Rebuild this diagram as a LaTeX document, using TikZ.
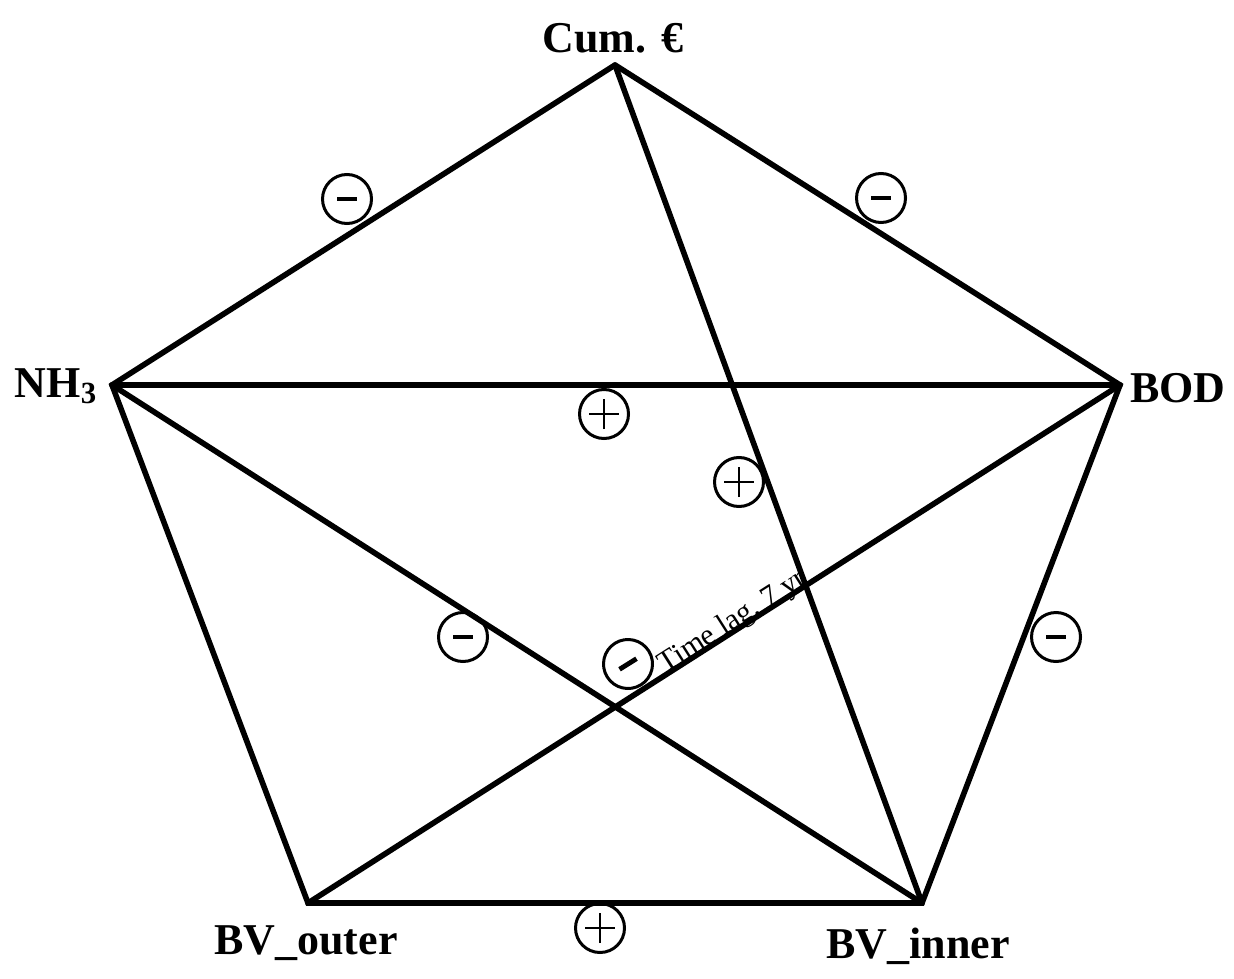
\documentclass[tikz,border=0pt]{standalone}
\usepackage{fontspec}
\setmainfont{Liberation Serif}
\usetikzlibrary{positioning}
\tikzset{
  edge/.style={line width=2.8pt, line cap=round},
  vlabel/.style={font=\fontsize{22}{26}\selectfont\bfseries},
  signbox/.style={circle, draw, line width=1.5pt, minimum size=24.5pt, inner sep=0pt},
  negsign/.style={signbox, path picture={
      \draw[line width=2.4pt] ([xshift=-5pt]path picture bounding box.center)
        -- ([xshift=5pt]path picture bounding box.center);}},
  possign/.style={signbox, path picture={
      \draw[line width=1.4pt] ([xshift=-7.5pt]path picture bounding box.center)
        -- ([xshift=7.5pt]path picture bounding box.center);
      \draw[line width=1.4pt] ([yshift=-7.5pt]path picture bounding box.center)
        -- ([yshift=7.5pt]path picture bounding box.center);}}
}

\begin{document}
\begin{tikzpicture}[x=0.5pt, y=-0.5pt]
  \useasboundingbox (0,0) rectangle (1234,978);
  % vertices
  \coordinate (cum) at (615,65);
  \coordinate (nh) at (112,385);
  \coordinate (bod) at (1120,385);
  \coordinate (bvo) at (308,903);
  \coordinate (bvi) at (922,903);
  % outer ring
  \draw[edge] (cum) -- (nh) -- (bvo) -- (bvi) -- (bod) -- (cum);
  % diagonals
  \draw[edge] (nh) -- (bod);
  \draw[edge] (nh) -- (bvi);
  \draw[edge] (cum) -- (bvi);
  \draw[edge] (bod) -- (bvo);
  % vertex labels
  \node[vlabel] (lcum) at (613,38) {Cum. €};
  \node[vlabel] (lnh) at (56,386) {NH\textsubscript{3}};
  \node[vlabel] (lbod) at (1178,388) {BOD};
  \node[vlabel] (lbvo) at (306,943) {BV\_outer};
  \node[vlabel] (lbvi) at (918,946) {BV\_inner};
  % signs
  \node[negsign] (s1) at (347,199) {};
  \node[negsign] (s2) at (881,198) {};
  \node[possign] (s3) at (604,414) {};
  \node[possign] (s4) at (739,482) {};
  \node[negsign] (s5) at (463,637) {};
  \node[negsign, rotate=32] (s6) at (628,664) {};
  \node[negsign] (s7) at (1056,637) {};
  \node[possign] (s8) at (600,928) {};
  \node[rotate=32.5, font=\fontsize{15}{17}\selectfont, inner sep=0pt] (lag) at (733,622) {Time lag, 7 yr};
\end{tikzpicture}
\end{document}
